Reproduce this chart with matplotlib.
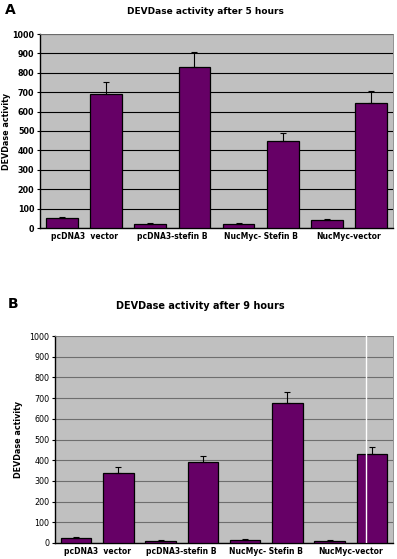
import numpy as np
import matplotlib.pyplot as plt

# group labels, one per pair of bars
groups = ['pcDNA3  vector', 'pcDNA3-stefin B', 'NucMyc- Stefin B', 'NucMyc-vector']

# panel A - 5 hours
vals_5h = [50, 690, 20, 830, 20, 450, 40, 645]
err_5h = [5, 65, 5, 75, 5, 40, 5, 60]

# panel B - 9 hours
vals_9h = [25, 340, 12, 390, 15, 675, 12, 430]
err_9h = [3, 28, 2, 30, 3, 55, 3, 32]

yticks = list(range(0, 1001, 100))

BAR = '#660066'
BG = '#c0c0c0'


def draw_panel(ax, vals, errs, grid_col, tick_weight, ylab_x):
    x = np.arange(len(vals))
    ax.set_facecolor(BG)
    ax.bar(x, vals, width=0.72, color=BAR, edgecolor='black', linewidth=0.9, zorder=3)
    ax.errorbar(x, vals, yerr=[np.zeros(len(errs)), errs], fmt='none',
                ecolor='black', elinewidth=0.8, capsize=2, capthick=0.8, zorder=4)
    ax.set_xlim(-0.5, len(vals) - 0.5)
    ax.set_ylim(0, 1000)
    ax.set_yticks(yticks)
    ax.yaxis.grid(True, color=grid_col, linewidth=0.8, zorder=1)
    ax.set_axisbelow(True)
    ax.set_xticks(np.arange(0.5, len(vals), 2))
    ax.set_xticklabels(groups, fontsize=5.5, fontweight='bold')
    ax.tick_params(axis='x', length=0, pad=3)
    ax.tick_params(axis='y', labelsize=5.8, length=2, pad=2)
    for lbl in ax.get_yticklabels():
        lbl.set_fontweight(tick_weight)
    ax.set_ylabel('DEVDase activity', fontsize=5.8, fontweight='bold')
    ax.yaxis.set_label_coords(ylab_x, 0.5)
    for s in ['top', 'right']:
        ax.spines[s].set_color('#808080')
        ax.spines[s].set_linewidth(0.6)
    for s in ['left', 'bottom']:
        ax.spines[s].set_color('black')
        ax.spines[s].set_linewidth(1.0)


W, H = 397, 559
fig = plt.figure(figsize=(W / 100, H / 100), dpi=100)

axA = fig.add_axes([40 / W, 1 - 228 / H, 353 / W, 194 / H])
draw_panel(axA, vals_5h, err_5h, 'black', 'bold', -0.082)

axB = fig.add_axes([55 / W, 1 - 543 / H, 338 / W, 207 / H])
draw_panel(axB, vals_9h, err_9h, '#6e6e6e', 'normal', -0.095)
# white streak seen in the original scan
axB.axvline(6.86, color='white', linewidth=1.0, zorder=5)

fig.text(5 / W, 1 - 10 / H, 'A', fontsize=10, fontweight='bold', va='center', ha='left')
fig.text(205 / W, 1 - 11 / H, 'DEVDase activity after 5 hours', fontsize=6.5,
         fontweight='bold', va='center', ha='center')
fig.text(8 / W, 1 - 304 / H, 'B', fontsize=10, fontweight='bold', va='center', ha='left')
fig.text(200 / W, 1 - 306 / H, 'DEVDase activity after 9 hours', fontsize=7,
         fontweight='bold', va='center', ha='center')

fig.savefig('out.png', dpi=100)
